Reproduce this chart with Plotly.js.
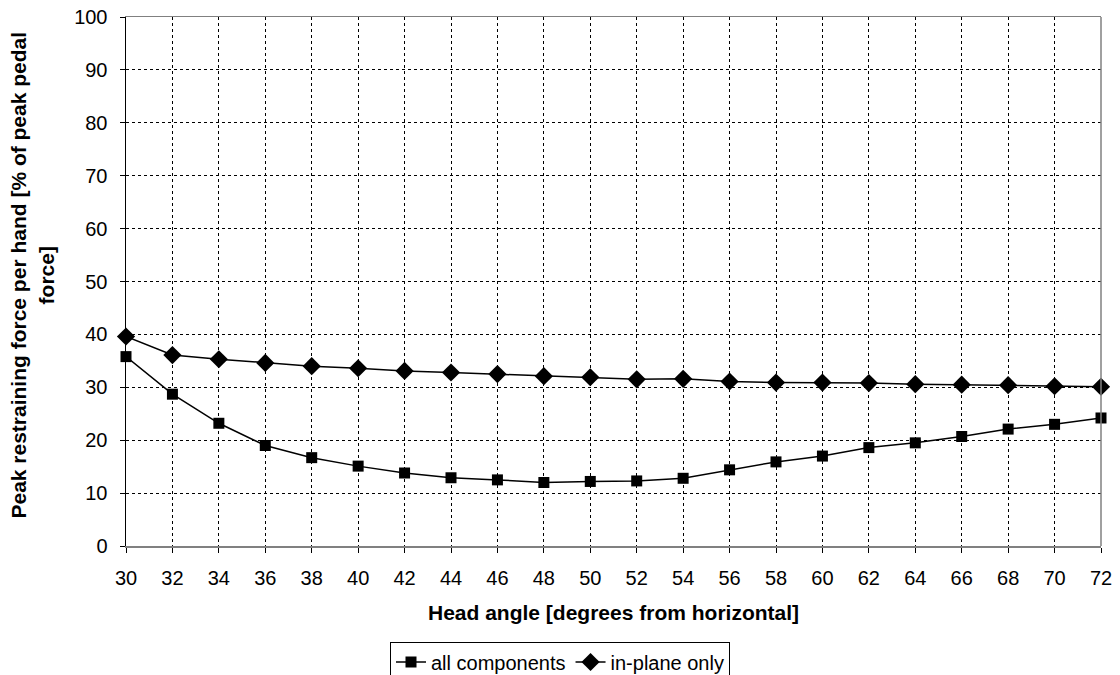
<!DOCTYPE html>
<html>
<head>
<meta charset="utf-8">
<script src="https://cdn.plot.ly/plotly-3.0.1.min.js"></script>
<style>
  html, body { margin: 0; padding: 0; background: #fff; }
  #chart { width: 1120px; height: 675px; }
</style>
</head>
<body>
<div id="chart"></div>
<script>
// Head angle [degrees from horizontal]
const headAngle = [30, 32, 34, 36, 38, 40, 42, 44, 46, 48, 50, 52, 54, 56, 58, 60, 62, 64, 66, 68, 70, 72];

// Peak restraining force per hand, % of peak pedal force
const allComponents = [35.8, 28.7, 23.2, 19.0, 16.7, 15.1, 13.8, 12.9, 12.5, 12.0, 12.2, 12.3, 12.8, 14.4, 15.9, 17.0, 18.6, 19.5, 20.7, 22.1, 23.0, 24.2];
const inPlaneOnly = [39.6, 36.1, 35.3, 34.6, 34.0, 33.6, 33.1, 32.8, 32.5, 32.1, 31.9, 31.5, 31.6, 31.1, 30.9, 30.9, 30.8, 30.6, 30.5, 30.4, 30.2, 30.1];

const yTicks = [0, 10, 20, 30, 40, 50, 60, 70, 80, 90, 100];

const FONT = 'Liberation Sans, Arial, sans-serif';

const traces = [
  {
    x: headAngle, y: allComponents, name: 'all components',
    type: 'scatter', mode: 'lines+markers',
    line: { color: '#000', width: 1.5 },
    marker: { symbol: 'square', size: 11, color: '#000' },
    cliponaxis: false
  },
  {
    x: headAngle, y: inPlaneOnly, name: 'in-plane only',
    type: 'scatter', mode: 'lines+markers',
    line: { color: '#000', width: 1.5 },
    marker: { symbol: 'diamond', size: 14, color: '#000' },
    cliponaxis: false
  }
];

const layout = {
  width: 1120, height: 675,
  paper_bgcolor: '#fff', plot_bgcolor: '#fff',
  margin: { l: 126, r: 19, t: 17, b: 129, autoexpand: false },
  font: { family: FONT, color: '#000', size: 20 },
  showlegend: true,
  legend: {
    orientation: 'h', xref: 'container', yref: 'container',
    x: 0.5, xanchor: 'center', y: 0.0496, yanchor: 'top',
    bordercolor: '#000', borderwidth: 1, bgcolor: '#fff',
    font: { family: FONT, size: 20 },
    itemwidth: 30, tracegroupgap: 0
  },
  xaxis: {
    range: [30, 72], tickmode: 'linear', tick0: 30, dtick: 2,
    showgrid: true, gridcolor: '#000', griddash: 'dot', gridwidth: 1,
    zeroline: false, showline: true, linecolor: '#808080', linewidth: 1.5, mirror: true,
    ticks: 'outside', ticklen: 5, tickcolor: '#000', ticklabelstandoff: 8,
    tickfont: { family: FONT, size: 20 },
    fixedrange: true
  },
  yaxis: {
    range: [0, 100], tickmode: 'array', tickvals: yTicks, ticktext: yTicks.map(String),
    showgrid: true, gridcolor: '#000', griddash: 'dot', gridwidth: 1,
    zeroline: false, showline: true, linecolor: '#000', linewidth: 1.5,
    ticks: 'outside', ticklen: 5, tickcolor: '#000', ticklabelstandoff: 8,
    tickfont: { family: FONT, size: 20 },
    fixedrange: true
  },
  shapes: [
    { type: 'line', xref: 'paper', yref: 'paper', x0: 1, x1: 1, y0: 0, y1: 1,
      line: { color: '#808080', width: 1.5 } }
  ],
  annotations: [
    {
      text: '<b>Peak restraining force per hand [% of peak pedal<br>force]</b>',
      xref: 'paper', yref: 'paper', x: -0.096, y: 0.512,
      xanchor: 'center', yanchor: 'middle', textangle: -90, showarrow: false,
      font: { family: FONT, size: 21 }
    },
    {
      text: '<b>Head angle [degrees from horizontal]</b>',
      xref: 'paper', yref: 'paper', x: 0.5, y: -0.125,
      xanchor: 'center', yanchor: 'middle', showarrow: false,
      font: { family: FONT, size: 21 }
    }
  ]
};

Plotly.newPlot('chart', traces, layout, { displayModeBar: false, staticPlot: true });
</script>
</body>
</html>
